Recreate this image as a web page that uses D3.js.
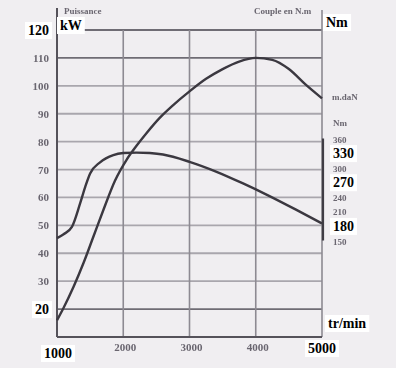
<!DOCTYPE html>
<html>
<head>
<meta charset="utf-8">
<script src="https://cdn.jsdelivr.net/npm/d3@7"></script>
<style>
  html, body { margin: 0; padding: 0; background: #f0eef1; }
  svg { display: block; }
</style>
</head>
<body>
<div id="chart"></div>
<script>
// engine curves
var powerRpm = [1000, 1100, 1250, 1400, 1550, 1700, 1875, 2050, 2200, 2350, 2550, 2750, 3000, 3250, 3500, 3750, 4000, 4250, 4500, 4750, 5000];
var powerKw = [16, 20.5, 28, 36.5, 46, 55.5, 66, 73.5, 78.5, 83, 88.5, 93, 98, 102.5, 106, 108.7, 110, 109.3, 106, 100.5, 95.5];

var torqueRpm = [1000, 1100, 1225, 1350, 1425, 1500, 1650, 1850, 2000, 2200, 2400, 2600, 3000, 3400, 3800, 4200, 4600, 5000];
var torqueNm = [155, 163, 178, 227, 260, 288, 311, 326, 330, 331, 330, 327, 312, 292, 268, 242, 214, 185];

var rpmTicks = [1000, 2000, 3000, 4000, 5000];
var powerTicks = [20, 30, 40, 50, 60, 70, 80, 90, 100, 110, 120];
var torqueTicks = [150, 180, 210, 240, 270, 300, 330, 360];

// labels that were retyped on the scan (the others are blurry)
var boldRpm = [1000, 5000];
var boldPower = [120, 20];
var boldTorque = [330, 270, 180];

var width = 396, height = 368;
var serif = '"Liberation Serif", "DejaVu Serif", serif';

var svg = d3.select('#chart').append('svg')
    .attr('width', width)
    .attr('height', height);

svg.append('rect')
    .attr('width', width)
    .attr('height', height)
    .attr('fill', '#f0eef1');

var defs = svg.append('defs');
defs.append('filter').attr('id', 'blur')
    .append('feGaussianBlur').attr('stdDeviation', 0.7);

var x = d3.scaleLinear().domain([1000, 5000]).range([57, 322]);
var yP = d3.scaleLinear().domain([10, 120]).range([337, 30]);
var yT = d3.scaleLinear().domain([150, 360]).range([240.5, 138.5]);

// grid
var grid = svg.append('g');
grid.selectAll('.hgrid')
    .data(powerTicks)
    .enter()
    .append('line')
    .attr('x1', x(1000))
    .attr('x2', x(5000))
    .attr('y1', function (d) { return yP(d); })
    .attr('y2', function (d) { return yP(d); })
    .attr('stroke', function (d) { return (d === 20 || d === 110 || d === 120) ? '#6f6c74' : '#a9a6ad'; })
    .attr('stroke-width', 1.8);

grid.selectAll('.vgrid')
    .data(rpmTicks.slice(1))
    .enter()
    .append('line')
    .attr('x1', function (d) { return x(d); })
    .attr('x2', function (d) { return x(d); })
    .attr('y1', function (d) { return d === 5000 ? 10 : yP(120); })
    .attr('y2', yP(10))
    .attr('stroke', '#8d8a92')
    .attr('stroke-width', 1.6);

// main axes
svg.append('line')
    .attr('x1', x(1000)).attr('x2', x(1000))
    .attr('y1', 8).attr('y2', yP(10))
    .attr('stroke', '#55525a').attr('stroke-width', 2);
svg.append('line')
    .attr('x1', x(1000)).attr('x2', x(5000))
    .attr('y1', yP(10)).attr('y2', yP(10))
    .attr('stroke', '#55525a').attr('stroke-width', 2);

// torque scale bar on the right
svg.append('line')
    .attr('x1', x(5000) + 1).attr('x2', x(5000) + 1)
    .attr('y1', yT(360)).attr('y2', yT(150))
    .attr('stroke', '#3f3c44').attr('stroke-width', 2.2);

// curves
var powerLine = d3.line()
    .x(function (d) { return x(d[0]); })
    .y(function (d) { return yP(d[1]); })
    .curve(d3.curveMonotoneX);

var torqueLine = d3.line()
    .x(function (d) { return x(d[0]); })
    .y(function (d) { return yT(d[1]); })
    .curve(d3.curveMonotoneX);

svg.append('path')
    .attr('d', powerLine(d3.zip(powerRpm, powerKw)))
    .attr('fill', 'none')
    .attr('stroke', '#3b3840')
    .attr('stroke-width', 2.4);

svg.append('path')
    .attr('d', torqueLine(d3.zip(torqueRpm, torqueNm)))
    .attr('fill', 'none')
    .attr('stroke', '#3b3840')
    .attr('stroke-width', 2.4);

// blurry printed labels
var faint = svg.append('g').attr('filter', 'url(#blur)')
    .attr('fill', '#6a6670')
    .attr('font-family', serif)
    .attr('font-weight', 'bold')
    .attr('font-size', 11);

faint.selectAll('.fp')
    .data(powerTicks.filter(function (d) { return boldPower.indexOf(d) < 0; }))
    .enter()
    .append('text')
    .attr('x', 49)
    .attr('y', function (d) { return yP(d) + 4; })
    .attr('text-anchor', 'end')
    .text(function (d) { return d; });

faint.selectAll('.fr')
    .data(rpmTicks.filter(function (d) { return boldRpm.indexOf(d) < 0; }))
    .enter()
    .append('text')
    .attr('x', function (d) { return x(d) + 2; })
    .attr('y', 351)
    .attr('text-anchor', 'middle')
    .text(function (d) { return d; });

faint.selectAll('.ft')
    .data(torqueTicks.filter(function (d) { return boldTorque.indexOf(d) < 0; }))
    .enter()
    .append('text')
    .attr('x', 333)
    .attr('y', function (d) { return yT(d) + 4; })
    .attr('font-size', 9)
    .text(function (d) { return d; });

faint.append('text').attr('x', 64).attr('y', 14).attr('font-size', 9).text('Puissance');
faint.append('text').attr('x', 254).attr('y', 14).attr('font-size', 9).text('Couple en N.m');
faint.append('text').attr('x', 332).attr('y', 100).attr('font-size', 9).text('m.daN');
faint.append('text').attr('x', 333).attr('y', 126).attr('font-size', 9).text('Nm');

// retyped labels on white boxes
function boxed(tx, ty, str, anchor) {
    var g = svg.append('g');
    var t = g.append('text')
        .attr('x', tx)
        .attr('y', ty)
        .attr('text-anchor', anchor || 'start')
        .attr('font-family', serif)
        .attr('font-weight', 'bold')
        .attr('font-size', 14)
        .attr('fill', '#000')
        .text(str);
    var bb = t.node().getBBox();
    g.insert('rect', 'text')
        .attr('x', bb.x - 3)
        .attr('y', bb.y - 1)
        .attr('width', bb.width + 6)
        .attr('height', bb.height + 2)
        .attr('fill', '#fff');
}

boldPower.forEach(function (d) {
    boxed(49, yP(d) + 5, d, 'end');
});
boldTorque.forEach(function (d) {
    boxed(333, yT(d) + 5, d, 'start');
});
boxed(x(1000) + 1, 358, boldRpm[0], 'middle');
boxed(x(5000), 353, boldRpm[1], 'middle');

boxed(60, 30, 'kW');
boxed(326, 27, 'Nm');
boxed(328, 328, 'tr/min');
</script>
</body>
</html>
